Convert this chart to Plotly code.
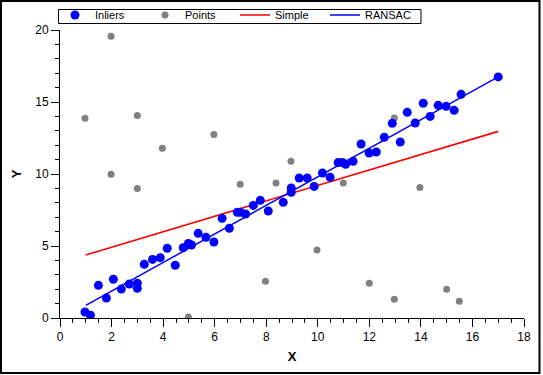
import plotly.graph_objects as go

# ---- data ----
inlier_x = [0.97, 1.18, 1.49, 1.80, 2.07, 2.38, 2.69, 3.0, 3.0, 3.27, 3.59, 3.89, 4.16, 4.47,
            4.78, 4.98, 5.10, 5.36, 5.66, 5.97, 6.29, 6.57, 6.88, 7.0, 7.2, 7.5, 7.77, 8.08,
            8.66, 8.97, 8.97, 9.28, 9.59, 9.86, 10.18, 10.48, 10.79, 10.96, 11.08, 11.37,
            11.68, 11.99, 12.27, 12.58, 12.89, 13.2, 13.47, 13.78, 14.09, 14.36, 14.67,
            14.98, 15.29, 15.56, 17.0]
inlier_y = [0.42, 0.19, 2.27, 1.39, 2.69, 2.01, 2.36, 2.41, 2.06, 3.73, 4.07, 4.19, 4.84, 3.66,
            4.88, 5.18, 5.07, 5.88, 5.60, 5.28, 6.92, 6.23, 7.34, 7.34, 7.22, 7.82, 8.17, 7.43,
            8.03, 9.03, 8.73, 9.72, 9.72, 9.14, 10.07, 9.77, 10.79, 10.79, 10.67, 10.88,
            12.08, 11.46, 11.53, 12.55, 13.52, 12.22, 14.28, 13.54, 14.91, 14.0, 14.77,
            14.70, 14.42, 15.53, 16.74]
outlier_x = [0.97, 1.98, 1.98, 3.0, 3.0, 3.97, 5.97, 6.99, 8.38, 8.96, 10.99, 9.97, 4.98,
             7.97, 12.0, 12.97, 15.0, 15.49, 12.97, 13.96]
outlier_y = [13.88, 19.56, 9.98, 14.07, 9.0, 11.78, 12.75, 9.28, 9.38, 10.88, 9.38, 4.72, 0.07,
             2.55, 2.41, 1.30, 1.99, 1.16, 13.89, 9.07]
fit_x = [1.0, 17.0]
simple_y = [4.38, 12.96]
ransac_y = [0.88, 16.74]

x_ticks = [0, 2, 4, 6, 8, 10, 12, 14, 16, 18]
y_ticks = [0, 5, 10, 15, 20]

W, H = 543, 375
L, R, T, B = 60, 19, 30, 57
pw, ph = W - L - R, H - T - B

def px2paper_x(px):
    return (px - L) / pw

def px2paper_y(py):
    return (H - B - py) / ph

font = "Liberation Sans, Arial, sans-serif"

fig = go.Figure()
fig.add_trace(go.Scatter(x=outlier_x, y=outlier_y, mode="markers", name="Points",
                         marker=dict(color="#808080", size=7), legendrank=2))
fig.add_trace(go.Scatter(x=fit_x, y=simple_y, mode="lines", name="Simple",
                         line=dict(color="#FF0000", width=1.6), legendrank=3))
fig.add_trace(go.Scatter(x=fit_x, y=ransac_y, mode="lines", name="RANSAC",
                         line=dict(color="#0000FF", width=1.5), legendrank=4))
fig.add_trace(go.Scatter(x=inlier_x, y=inlier_y, mode="markers", name="Inliers",
                         marker=dict(color="#0000FF", size=9), legendrank=1))

axis_common = dict(showgrid=False, zeroline=False, showline=True, linecolor="black",
                   linewidth=1, ticks="outside", tickcolor="black", ticklen=8, tickwidth=1,
                   tickfont=dict(family=font, size=12, color="black"))

fig.update_xaxes(range=[0, 18], tickvals=x_ticks, ticktext=[str(v) for v in x_ticks],
                 minor=dict(dtick=0.5, ticks="outside", ticklen=4, tickcolor="black"),
                 title=dict(text="<b>X</b>", font=dict(family=font, size=13, color="black"), standoff=8),
                 **axis_common)
fig.update_yaxes(range=[0, 20], tickvals=y_ticks, ticktext=[str(v) for v in y_ticks],
                 minor=dict(dtick=1, ticks="outside", ticklen=4, tickcolor="black"),
                 title=dict(text="<b>Y</b>", font=dict(family=font, size=13, color="black"), standoff=10),
                 **axis_common)

# outer frame
fig.add_shape(type="rect", xref="paper", yref="paper",
              x0=px2paper_x(1), x1=px2paper_x(539.5), y0=px2paper_y(373), y1=px2paper_y(1),
              line=dict(color="black", width=2), fillcolor="rgba(0,0,0,0)", layer="above")
# legend box (compact, behind the native legend entries)
fig.add_shape(type="rect", xref="paper", yref="paper",
              x0=px2paper_x(58.5), x1=px2paper_x(421), y0=px2paper_y(23.5), y1=px2paper_y(9.5),
              line=dict(color="black", width=1), fillcolor="white", layer="above")

fig.update_layout(
    width=W, height=H,
    margin=dict(l=L, r=R, t=T, b=B, pad=0, autoexpand=False),
    paper_bgcolor="white", plot_bgcolor="white",
    showlegend=True,
    legend=dict(orientation="h", x=px2paper_x(55), y=px2paper_y(0.5),
                xanchor="left", yanchor="top",
                borderwidth=0, bgcolor="rgba(0,0,0,0)",
                font=dict(family=font, size=11, color="black"),
                entrywidth=45, itemwidth=30, tracegroupgap=0),
)

fig.write_html("out.html", post_script="document.body.style.margin='0';",
               config={"displayModeBar": False})
